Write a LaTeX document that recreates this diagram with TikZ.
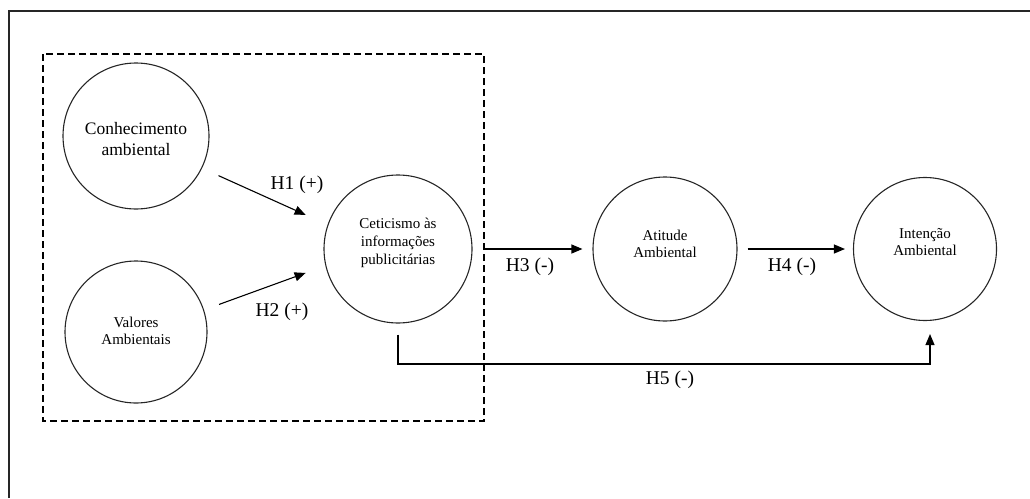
\documentclass[tikz,border=0pt]{standalone}
\usepackage{fontspec}
\setmainfont{Liberation Serif}
\usetikzlibrary{arrows.meta}
\begin{document}
\begin{tikzpicture}[x=1pt,y=-1pt,
  construct/.style={draw=black!85,line width=1.1pt,circle,inner sep=0pt},
  ctext/.style={align=center,inner sep=0pt,font=\fontsize{15}{17.7}\selectfont},
  arr/.style={draw=black,line width=1.1pt,-{Triangle[length=11pt,width=9pt]}},
  hyp/.style={font=\fontsize{19.5}{21}\selectfont,inner sep=0pt},
  frame/.style={draw=black!85,line width=1.4pt},
  group/.style={draw=black,line width=1.1pt,dash pattern=on 7pt off 4pt}]
\useasboundingbox (0,0) rectangle (1030,498);
\draw[frame] (9,498) -- (9,11) -- (1030,11);
\draw[group] (43,54) rectangle (484,421);

\node[construct,minimum size=146pt] (kon) at (136,136) {};
\node[construct,minimum size=142pt] (val) at (136,332) {};
\node[construct,minimum size=148pt] (cet) at (398,249) {};
\node[construct,minimum size=144pt] (ati) at (665,249) {};
\node[construct,minimum size=143pt] (int) at (925,249) {};

\node[ctext,font=\fontsize{17.5}{21}\selectfont] (konT) at ([yshift=-3pt]kon.center) {Conhecimento\\ambiental};
\node[ctext] (valT) at ([yshift=1pt]val.center) {Valores\\Ambientais};
\node[ctext,font=\fontsize{15}{18.3}\selectfont] (cetT) at ([yshift=6pt]cet.center) {Ceticismo às\\informações\\publicitárias};
\node[ctext] (atiT) at ([yshift=5pt]ati.center) {Atitude\\Ambiental};
\node[ctext,font=\fontsize{15}{16.7}\selectfont] (intT) at ([yshift=7pt]int.center) {Intenção\\Ambiental};

\draw[arr,shorten <=18pt,shorten >=24pt] (kon.-26) -- (cet.161);
\draw[arr,shorten <=16pt,shorten >=21pt] (val.18) -- (cet.193);
\draw[arr,shorten <=11pt,shorten >=10pt] (cet.east) -- (ati.west);
\draw[arr,shorten <=10pt,shorten >=8pt] (ati.east) -- (int.west);
\coordinate (h5c) at (930,364);
\draw[arr,shorten <=11pt,shorten >=13pt] (cet.south) |- (h5c) -- ([xshift=5pt]int.south);

\node[hyp] (l1) at (297,185) {H1 (+)};
\node[hyp] (l2) at (282,312) {H2 (+)};
\node[hyp] (l3) at (530,267) {H3 (-)};
\node[hyp] (l4) at (792,267) {H4 (-)};
\node[hyp] (l5) at (670,380) {H5 (-)};
\end{tikzpicture}
\end{document}
